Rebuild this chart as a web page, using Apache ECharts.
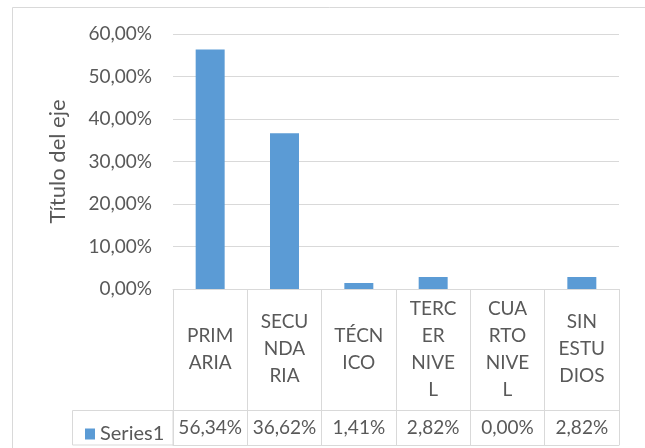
<!DOCTYPE html>
<html>
<head>
<meta charset="utf-8">
<script src="https://cdn.jsdelivr.net/npm/echarts@6/dist/echarts.min.js"></script>
<style>
    html, body { margin: 0; padding: 0; background: #ffffff; }
    #main { width: 645px; height: 448px; }
</style>
</head>
<body>
<div id="main"></div>
<script>
// data (percent)
let categories = ['PRIMARIA', 'SECUNDARIA', 'TÉCNICO', 'TERCER NIVEL', 'CUARTO NIVEL', 'SIN ESTUDIOS'];
// how excel wrapped the names inside the table cells
let categoryLabels = ['PRIM\nARIA', 'SECU\nNDA\nRIA', 'TÉCN\nICO', 'TERC\nER\nNIVE\nL', 'CUA\nRTO\nNIVE\nL', 'SIN\nESTU\nDIOS'];
let series1 = [56.34, 36.62, 1.41, 2.82, 0.00, 2.82];
let yTicks = [0, 10, 20, 30, 40, 50, 60];

function pct(v) {
    return v.toFixed(2).replace('.', ',') + '%';
}

function drawChart() {
    let myChart = echarts.init(document.getElementById('main'));
    let grey = '#595959';
    let lineGrey = '#d9d9d9';
    let font = 'Lato';

    let option = {
        backgroundColor: '#ffffff',
        textStyle: { fontFamily: font },
        legend: {
            data: ['Series1'],
            left: 80,
            top: 419,
            icon: 'rect',
            itemWidth: 10,
            itemHeight: 11,
            selectedMode: false,
            textStyle: { fontFamily: font, fontSize: 20, color: grey }
        },
        graphic: [
            {
                // chart area border
                type: 'rect',
                silent: true,
                z: -10,
                shape: { x: 12.5, y: 7.5, width: 700, height: 600 },
                style: { fill: 'none', stroke: lineGrey, lineWidth: 1 }
            },
            {
                // legend cell of the data table
                type: 'rect',
                silent: true,
                shape: { x: 72.5, y: 410.5, width: 100.5, height: 34.5 },
                style: { fill: 'none', stroke: lineGrey, lineWidth: 1 }
            }
        ],
        grid: {
            left: 173,
            top: 34,
            width: 446,
            height: 255
        },
        xAxis: [
            {
                type: 'category',
                data: categories,
                position: 'bottom',
                axisLine: { show: true, lineStyle: { color: lineGrey } },
                axisTick: { show: true, interval: 0, length: 121, lineStyle: { color: lineGrey } },
                axisLabel: {
                    interval: 0,
                    margin: 60,
                    verticalAlign: 'middle',
                    lineHeight: 27,
                    fontFamily: font,
                    fontSize: 19,
                    color: grey,
                    formatter: function (value, index) {
                        return categoryLabels[index];
                    }
                }
            },
            {
                // values row of the data table
                type: 'category',
                data: series1.map(pct),
                position: 'bottom',
                offset: 121,
                axisLine: { show: true, lineStyle: { color: lineGrey } },
                axisTick: { show: true, interval: 0, length: 35, lineStyle: { color: lineGrey } },
                axisLabel: {
                    interval: 0,
                    margin: 18,
                    verticalAlign: 'middle',
                    fontFamily: font,
                    fontSize: 19,
                    color: grey
                }
            },
            {
                // bottom edge of the table
                type: 'category',
                data: categories,
                position: 'bottom',
                offset: 156,
                axisLine: { show: true, lineStyle: { color: lineGrey } },
                axisTick: { show: false },
                axisLabel: { show: false }
            }
        ],
        yAxis: {
            type: 'value',
            min: yTicks[0],
            max: yTicks[yTicks.length - 1],
            interval: 10,
            name: 'Título del eje',
            nameLocation: 'middle',
            nameRotate: 90,
            nameGap: 104,
            nameTextStyle: { fontFamily: font, fontSize: 22, color: grey },
            axisLine: { show: false },
            axisTick: { show: false },
            splitLine: { lineStyle: { color: lineGrey } },
            axisLabel: {
                margin: 21,
                fontFamily: font,
                fontSize: 19,
                color: grey,
                formatter: function (v) { return pct(v); }
            }
        },
        series: [
            {
                name: 'Series1',
                type: 'bar',
                data: series1,
                barWidth: '39%',
                itemStyle: { color: '#5b9bd5' }
            }
        ]
    };

    myChart.setOption(option);
}

drawChart();
</script>
</body>
</html>
